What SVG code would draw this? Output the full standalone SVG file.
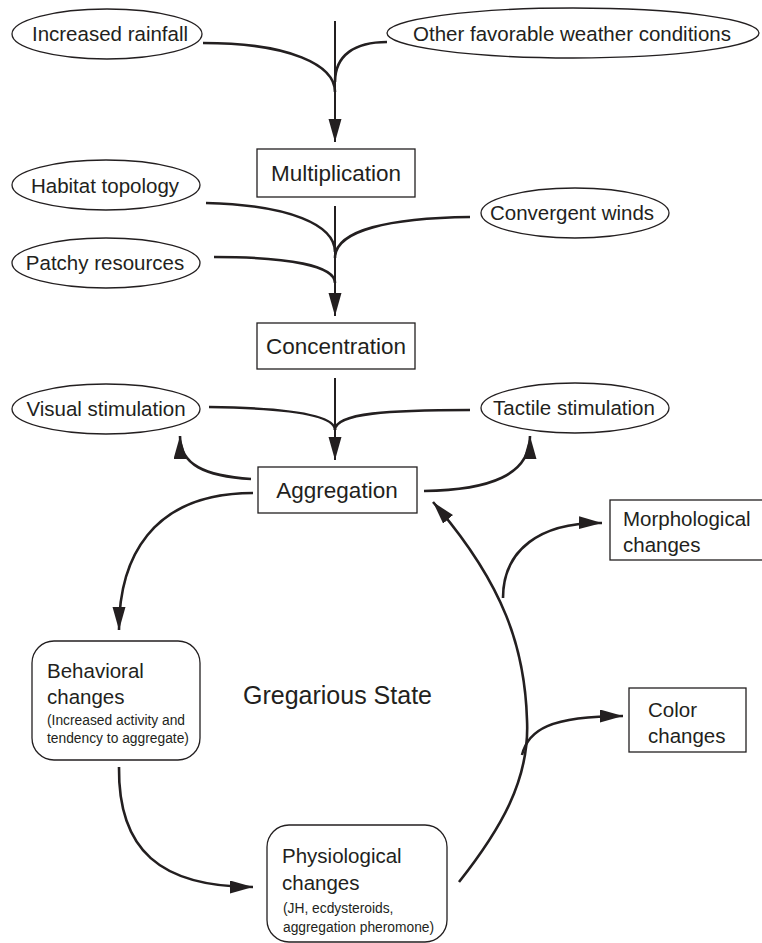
<svg xmlns="http://www.w3.org/2000/svg" width="762" height="943" viewBox="0 0 762 943">
<style>
text{font-family:"Liberation Sans",Arial,sans-serif;fill:#231f20}
.t{font-size:20.5px}
.b{font-size:22.5px}
.s{font-size:13.8px}
.g{font-size:25px}
.node{fill:#fff;stroke:#231f20;stroke-width:1.3}
.c{fill:none;stroke:#231f20;stroke-width:2.6}
.v{fill:none;stroke:#231f20;stroke-width:2}
</style>
<defs>
<marker id="ah" markerUnits="userSpaceOnUse" markerWidth="26" markerHeight="14" refX="23" refY="6.5" orient="auto">
<path d="M0,0 L23,6.5 L0,13 z" fill="#231f20"/>
</marker>
</defs>
<rect width="762" height="943" fill="#fff"/>
<g id="connectors">
<path class="c" d="M203,43 C290,43 335,65 335,92"/>
<path class="c" d="M387,42 C355,42 335,55 335,82"/>
<path class="v" d="M335,21 L335,142" marker-end="url(#ah)"/>
<path class="c" d="M206,203 C290,205 335,225 335,252"/>
<path class="c" d="M470,217 C390,218 335,230 335,258"/>
<path class="c" d="M214,257 C290,257 335,266 335,283"/>
<path class="v" d="M335,206 L335,316" marker-end="url(#ah)"/>
<path class="c" d="M209,407 C290,408 335,415 335,430"/>
<path class="c" d="M470,410 C390,410 335,413 335,430"/>
<path class="v" d="M335,378 L335,460" marker-end="url(#ah)"/>
<path class="c" d="M251,479 C205,476 180,465 180,436" marker-end="url(#ah)"/>
<path class="c" d="M424,491 C490,490 530,475 530,436" marker-end="url(#ah)"/>
<path class="c" d="M253,493 C150,493 119,560 119,630" marker-end="url(#ah)"/>
<path class="c" d="M119,767 C118,850 160,887 253,887" marker-end="url(#ah)"/>
<path class="c" d="M459,882 C500,830 530,780 527,720 C525,650 505,585 433,502" marker-end="url(#ah)"/>
<path class="c" d="M503,598 C503,550 540,522 602,523" marker-end="url(#ah)"/>
<path class="c" d="M522,755 C528,730 550,716 623,716" marker-end="url(#ah)"/>
</g>
<g id="rainfall"><ellipse class="node" cx="107" cy="34" rx="95" ry="25"/><text class="t" x="110" y="41" text-anchor="middle">Increased rainfall</text></g>
<g id="weather"><ellipse class="node" cx="573" cy="33" rx="186" ry="25"/><text class="t" x="572" y="41" text-anchor="middle">Other favorable weather conditions</text></g>
<g id="multiplication"><rect class="node" x="257" y="149" width="158" height="48"/><text class="b" x="336" y="181" text-anchor="middle">Multiplication</text></g>
<g id="habitat"><ellipse class="node" cx="106" cy="185" rx="94" ry="25"/><text class="t" x="105" y="193" text-anchor="middle">Habitat topology</text></g>
<g id="winds"><ellipse class="node" cx="575" cy="213" rx="94" ry="25"/><text class="t" x="572" y="220" text-anchor="middle">Convergent winds</text></g>
<g id="patchy"><ellipse class="node" cx="106" cy="263" rx="94" ry="25"/><text class="t" x="105" y="270" text-anchor="middle">Patchy resources</text></g>
<g id="concentration"><rect class="node" x="257" y="323" width="158" height="46"/><text class="b" x="336" y="354" text-anchor="middle">Concentration</text></g>
<g id="visual"><ellipse class="node" cx="106" cy="409" rx="94" ry="25"/><text class="t" x="106" y="416" text-anchor="middle">Visual stimulation</text></g>
<g id="tactile"><ellipse class="node" cx="575" cy="408" rx="94" ry="25"/><text class="t" x="574" y="415" text-anchor="middle">Tactile stimulation</text></g>
<g id="aggregation"><rect class="node" x="258" y="467" width="159" height="46"/><text class="b" x="337" y="498" text-anchor="middle">Aggregation</text></g>
<g id="morphological"><rect class="node" x="610" y="500" width="160" height="60"/><text class="t" x="623" y="526">Morphological</text><text class="t" x="623" y="552">changes</text></g>
<g id="behavioral"><rect class="node" x="32" y="641" width="168" height="119" rx="22"/><text class="t" x="47" y="678">Behavioral</text><text class="t" x="47" y="704">changes</text><text class="s" x="47" y="725">(Increased activity and</text><text class="s" x="47" y="743">tendency to aggregate)</text></g>
<text id="state" class="g" x="243" y="704">Gregarious State</text>
<g id="color"><rect class="node" x="629" y="688" width="117" height="64"/><text class="t" x="648" y="717">Color</text><text class="t" x="648" y="743">changes</text></g>
<g id="physiological"><rect class="node" x="267" y="825" width="180" height="117" rx="22"/><text class="t" x="282" y="863">Physiological</text><text class="t" x="282" y="890">changes</text><text class="s" x="283" y="913">(JH, ecdysteroids,</text><text class="s" x="283" y="932">aggregation pheromone)</text></g>
</svg>
